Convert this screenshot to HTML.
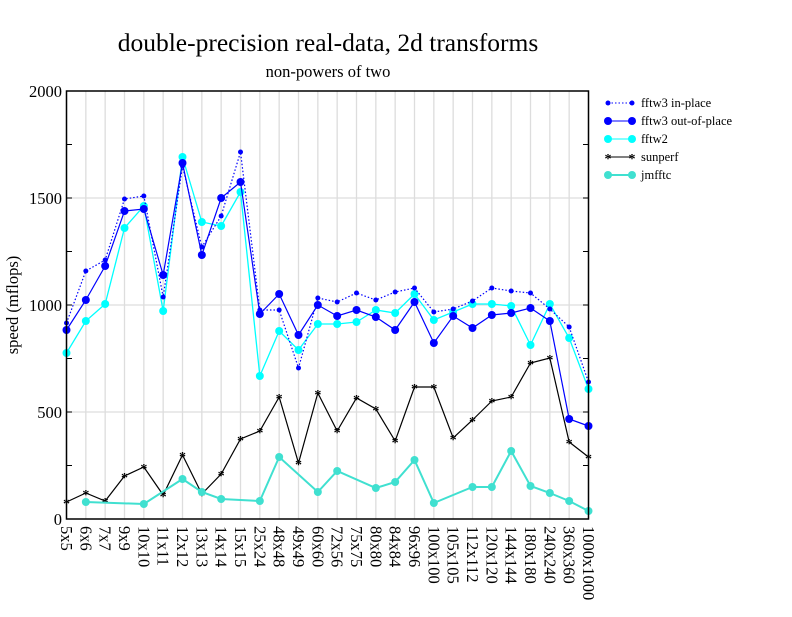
<!DOCTYPE html>
<html><head><meta charset="utf-8"><style>html,body{margin:0;padding:0;background:#fff}</style></head><body>
<svg width="792" height="612" xmlns="http://www.w3.org/2000/svg" font-family="Liberation Serif, serif">
<rect width="792" height="612" fill="#fff"/>
<text x="328" y="51" font-size="25.5" text-anchor="middle">double-precision real-data, 2d transforms</text>
<text x="328" y="77" font-size="16.5" text-anchor="middle">non-powers of two</text>
<g id="grid" stroke="#ddd" stroke-width="1.3"></g>
<g id="ser"></g>
<rect x="66.5" y="91" width="522" height="428" fill="none" stroke="#000" stroke-width="1.5"/>
<g id="lab" font-size="16.5"></g>
<text transform="translate(18,305) rotate(-90)" font-size="16.5" text-anchor="middle">speed (mflops)</text>
<g font-size="12.5">
<line x1="608" y1="103" x2="632" y2="103" stroke="#00f" stroke-dasharray="1.5,2"/><circle cx="608" cy="103" r="2.5" fill="#00f"/><circle cx="632" cy="103" r="2.5" fill="#00f"/><text x="641" y="107">fftw3 in-place</text>
<line x1="608" y1="121" x2="632" y2="121" stroke="#00f"/><circle cx="608" cy="121" r="4" fill="#00f"/><circle cx="632" cy="121" r="4" fill="#00f"/><text x="641" y="125">fftw3 out-of-place</text>
<line x1="608" y1="139" x2="632" y2="139" stroke="#0ff"/><circle cx="608" cy="139" r="4" fill="#0ff"/><circle cx="632" cy="139" r="4" fill="#0ff"/><text x="641" y="143">fftw2</text>
<line x1="608" y1="157" x2="632" y2="157" stroke="#000"/><text x="608" y="163" text-anchor="middle" font-size="14" font-weight="bold">*</text><text x="632" y="163" text-anchor="middle" font-size="14" font-weight="bold">*</text><text x="641" y="161">sunperf</text>
<line x1="608" y1="175" x2="632" y2="175" stroke="#40e0d0" stroke-width="2"/><circle cx="608" cy="175" r="4" fill="#40e0d0"/><circle cx="632" cy="175" r="4" fill="#40e0d0"/><text x="641" y="179">jmfftc</text>
</g>
<script>
const NS="http://www.w3.org/2000/svg";
const cats=["5x5","6x6","7x7","9x9","10x10","11x11","12x12","13x13","14x14","15x15","25x24","48x48","49x49","60x60","72x56","75x75","80x80","84x84","96x96","100x100","105x105","112x112","120x120","144x144","180x180","240x240","360x360","1000x1000"];
const X=i=>66.5+i*(522/27);
const Y=v=>519-v*428/2000;
function el(t,a,p){const e=document.createElementNS(NS,t);for(const k in a)e.setAttribute(k,a[k]);p.appendChild(e);return e;}
const g=document.getElementById('grid'),s=document.getElementById('ser'),l=document.getElementById('lab');
cats.forEach((c,i)=>{el('line',{x1:X(i),x2:X(i),y1:91,y2:519},g);
 const t=el('text',{transform:`translate(${X(i)-5.5},526) rotate(90)`},l);t.textContent=c;});
for(let v=500;v<2000;v+=500)el('line',{x1:67,x2:588,y1:Y(v),y2:Y(v)},g);
for(let v=0;v<=2000;v+=250){el('line',{x1:67,x2:72,y1:Y(v),y2:Y(v),stroke:'#000'},l);
 el('line',{x1:583,x2:588,y1:Y(v),y2:Y(v),stroke:'#000'},l);
 if(v%500==0){const t=el('text',{x:62,y:Y(v)+6,'text-anchor':'end'},l);t.textContent=v;}}
function ser(pts,col,w,r,dash,star){
 const d=pts.map(p=>X(p[0])+','+p[1]).join(' ');
 const a={points:d,fill:'none',stroke:col,'stroke-width':w};if(dash)a['stroke-dasharray']=dash;el('polyline',a,s);
 pts.forEach(p=>{if(star){const t=el('text',{x:X(p[0]),y:p[1]+6,'text-anchor':'middle','font-size':14,'font-weight':'bold'},s);t.textContent='*';}
 else el('circle',{cx:X(p[0]),cy:p[1],r:r,fill:col},s);});}
const idx=a=>a.map((y,i)=>[i,y]);
ser(idx([502,493,501,476,467,495,455,494,474,439,431,397,463,393,431,398,409,441,387,387,438,420,401,397,363,358,442,457]),'#000',1.2,0,null,true);
ser([[1,502],[4,504],[6,479],[7,492],[8,499],[10,501],[11,457],[13,492],[14,471],[16,488],[17,482],[18,460],[19,503],[21,487],[22,487],[23,451],[24,486],[25,493],[26,501],[27,511]],'#40e0d0',2,4);
ser(idx([353,321,304,228,206,311,157,222,226,192,376,331,350,324,324,322,310,313,294,320,312,304,304,306,345,304,338,389]),'#0ff',1.3,4);
ser(idx([330,300,266,211,209,275,163,255,198,182,314,294,335,305,316,310,317,330,302,343,316,328,315,313,308,321,419,426]),'#00f',1.2,4);
ser(idx([323,271,260,199,196,297,166,247,216,152,310,310,368,298,302,293,300,292,288,312,309,301,288,291,293,309,327,382]),'#00f',1.2,2.5,'1.5,2');
</script>
</svg>
</body></html>
